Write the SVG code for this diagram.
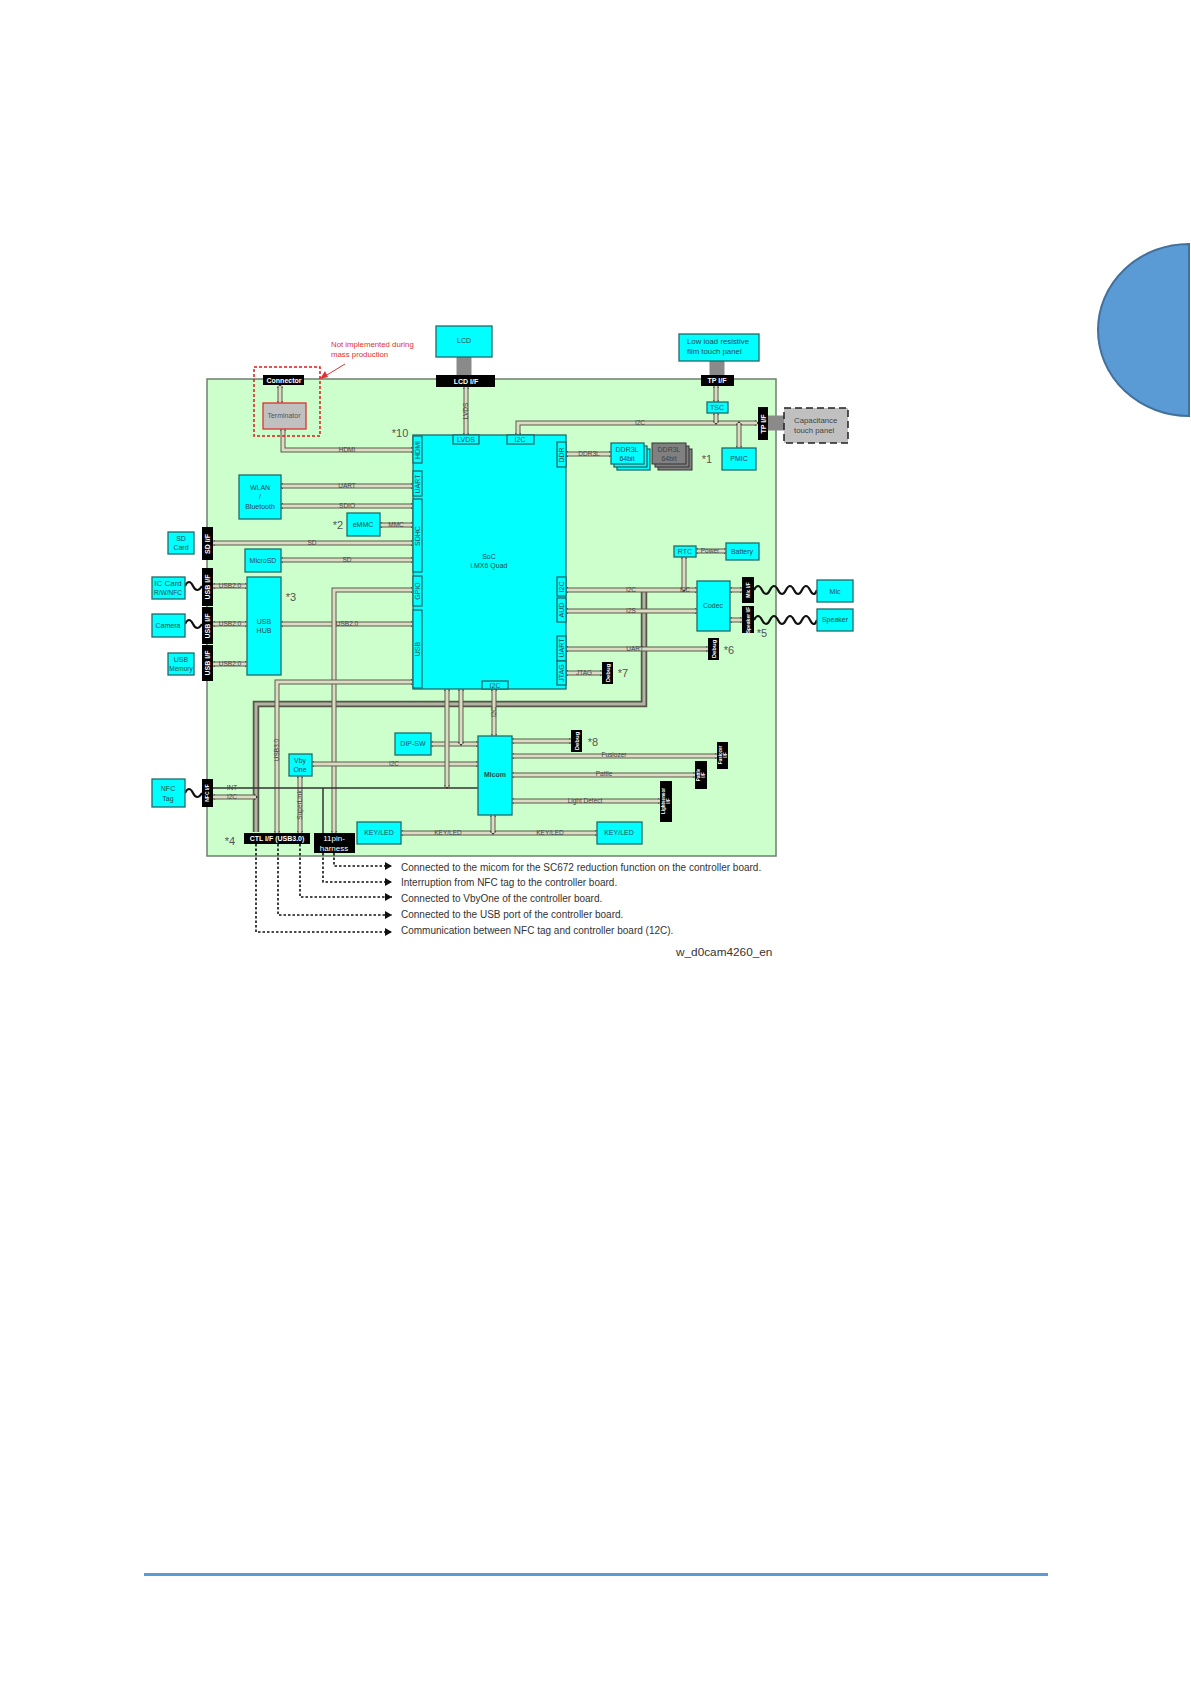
<svg xmlns="http://www.w3.org/2000/svg" width="1191" height="1684" viewBox="0 0 1191 1684">
<style>
text{font-family:"Liberation Sans",Arial,sans-serif;fill:#2a4a50;font-size:7px;text-anchor:middle}
.n rect,rect.n{fill:#00ffff;stroke:#1f6b6b;stroke-width:1.3}
.b rect,rect.b{fill:#000;stroke:none}
.b text{fill:#fff;font-weight:bold}
.o{fill:none;stroke:#5a5a4c;stroke-width:5;marker-start:url(#a);marker-end:url(#a)}
.i{fill:none;stroke:#dcdcc4;stroke-width:3}
.t{fill:none;stroke:#555548;stroke-width:6.5}
.ti{fill:none;stroke:#b4b4a4;stroke-width:3}
.w{fill:none;stroke:#111;stroke-width:2.2}
.g{fill:none;stroke:#8a8a8a;stroke-width:15}
.d{fill:none;stroke:#111;stroke-width:1.6;stroke-dasharray:2.5 2;marker-end:url(#h)}
.l{font-size:6.5px;fill:#444}
.m{font-size:11px;fill:#555}
.c{font-size:10px;text-anchor:start;fill:#333}
</style>
<defs>
<marker id="a" markerWidth="4" markerHeight="6" refX="2" refY="3" orient="auto-start-reverse" markerUnits="userSpaceOnUse"><path d="M0,0L4,3L0,6z" fill="#333"/></marker>
<marker id="h" markerWidth="8" markerHeight="8" refX="7" refY="4" orient="auto" markerUnits="userSpaceOnUse"><path d="M0,0L7,4L0,8z" fill="#111"/></marker>
</defs>
<rect width="1191" height="1684" fill="#fff"/>
<path id="tab" d="M1189,244A91,86 0 0 0 1189,416Z" fill="#5b9bd5" stroke="#41719c" stroke-width="2"/>
<rect id="footer" x="144" y="1573" width="904" height="3" fill="#5b9bd5"/>
<rect id="board" x="207" y="379" width="569" height="477" fill="#ccffcc" stroke="#6f7f6f" stroke-width="1.5"/>

<g id="connectors">
<path class="g" d="M464,357V375M717,361V375M768,423H785"/>
<path class="w" d="M185,586q4,-8 8,0t9,0M185,624q4,-8 8,0t9,0M185,793q4,-8 8,0t9,0M754,590q4,-8 8,0t8,0t8,0t8,0t8,0t8,0t8,0t7,0M754,620q4,-8 8,0t8,0t8,0t8,0t8,0t8,0t8,0t7,0"/>
<path class="t" d="M256,832V704H644V592"/><path class="ti" d="M256,832V704H644V592"/>
<g id="buses">
<path class="o" d="M280,386V403"/><path class="i" d="M280,386V403"/>
<path class="o" d="M283,429V450H413"/><path class="i" d="M283,429V450H413"/>
<path class="o" d="M281,486H413"/><path class="i" d="M281,486H413"/>
<path class="o" d="M281,506H413"/><path class="i" d="M281,506H413"/>
<path class="o" d="M380,525H413"/><path class="i" d="M380,525H413"/>
<path class="o" d="M213,543H413"/><path class="i" d="M213,543H413"/>
<path class="o" d="M281,560H413"/><path class="i" d="M281,560H413"/>
<path class="o" d="M213,586H247"/><path class="i" d="M213,586H247"/>
<path class="o" d="M213,624H247"/><path class="i" d="M213,624H247"/>
<path class="o" d="M213,664H247"/><path class="i" d="M213,664H247"/>
<path class="o" d="M281,624H413"/><path class="i" d="M281,624H413"/>
<path class="o" d="M413,590H334V833"/><path class="i" d="M413,590H334V833"/>
<path class="o" d="M413,682H277V833"/><path class="i" d="M413,682H277V833"/>
<path class="o" d="M300,776V833"/><path class="i" d="M300,776V833"/>
<path class="o" d="M312,764H478"/><path class="i" d="M312,764H478"/>
<path class="o" d="M431,744H478"/><path class="i" d="M431,744H478"/>
<path class="o" d="M461,689V744"/><path class="i" d="M461,689V744"/>
<path class="o" d="M447,689V787"/><path class="i" d="M447,689V787"/>
<path class="o" d="M213,797H256"/><path class="i" d="M213,797H256"/>
<path fill="none" stroke="#333" stroke-width="1.5" d="M213,788H478M323,788V833"/>
<path class="o" d="M401,833H597"/><path class="i" d="M401,833H597"/>
<path class="o" d="M493,815V833"/><path class="i" d="M493,815V833"/>
<path class="o" d="M494,689V736"/><path class="i" d="M494,689V736"/>
<path class="o" d="M512,741H571"/><path class="i" d="M512,741H571"/>
<path class="o" d="M512,756H717"/><path class="i" d="M512,756H717"/>
<path class="o" d="M512,775H695"/><path class="i" d="M512,775H695"/>
<path class="o" d="M512,801H660"/><path class="i" d="M512,801H660"/>
<path class="o" d="M566,590H697"/><path class="i" d="M566,590H697"/>
<path class="o" d="M566,611H697"/><path class="i" d="M566,611H697"/>
<path class="o" d="M566,649H708"/><path class="i" d="M566,649H708"/>
<path class="o" d="M566,673H602"/><path class="i" d="M566,673H602"/>
<path class="o" d="M684,557V590"/><path class="i" d="M684,557V590"/>
<path class="o" d="M696,551H726"/><path class="i" d="M696,551H726"/>
<path class="o" d="M730,590H742"/><path class="i" d="M730,590H742"/>
<path class="o" d="M730,620H742"/><path class="i" d="M730,620H742"/>
<path class="o" d="M566,454H611"/><path class="i" d="M566,454H611"/>
<path class="o" d="M466,387V435"/><path class="i" d="M466,387V435"/>
<path class="o" d="M716,386V402"/><path class="i" d="M716,386V402"/>
<path class="o" d="M518,435V423H757"/><path class="i" d="M518,435V423H757"/>
<path class="o" d="M716,413V423"/><path class="i" d="M716,413V423"/>
<path class="o" d="M739,423V448"/><path class="i" d="M739,423V448"/>
</g>
<path class="d" d="M256,844V932H392"/>
<path class="d" d="M278,844V915H392"/>
<path class="d" d="M300,844V897H392"/>
<path class="d" d="M323,853V882H392"/>
<path class="d" d="M334,853V866H392"/>
<path d="M345,364L322,378" fill="none" stroke="#e03030" stroke-width="1"/>
<path d="M320,379L328,377L325,371z" fill="#e03030"/>
</g>
<g id="bus-labels">
<text class="l" x="347" y="452">HDMI</text>
<text class="l" x="347" y="488">UART</text>
<text class="l" x="347" y="508">SDIO</text>
<text class="l" x="396" y="527">MMC</text>
<text class="l" x="312" y="545">SD</text>
<text class="l" x="347" y="562">SD</text>
<text class="l" x="230" y="588">USB2.0</text>
<text class="l" x="230" y="626">USB2.0</text>
<text class="l" x="230" y="666">USB2.0</text>
<text class="l" x="347" y="626">USB2.0</text>
<text class="l" transform="translate(279,750) rotate(-90)">USB3.0</text>
<text class="l" x="394" y="766">I2C</text>
<text class="l" x="232" y="790">INT</text>
<text class="l" x="232" y="799">I2C</text>
<text class="l" transform="translate(302,805) rotate(-90)">SuperLink</text>
<text class="l" x="448" y="835">KEY/LED</text>
<text class="l" x="550" y="835">KEY/LED</text>
<text class="l" transform="translate(496,712) rotate(-90)">I2C</text>
<text class="l" x="614" y="757">Fusiozer</text>
<text class="l" x="604" y="776">Pattle</text>
<text class="l" x="585" y="803">Light Detect</text>
<text class="l" x="631" y="592">I2C</text>
<text class="l" x="685" y="592">I2C</text>
<text class="l" x="631" y="613">I2S</text>
<text class="l" x="635" y="651">UART</text>
<text class="l" x="584" y="675">JTAG</text>
<text class="l" x="710" y="553">Power</text>
<text class="l" x="589" y="456">DDR3L</text>
<text class="l" x="640" y="425">I2C</text>
<text class="l" transform="translate(468,411) rotate(-90)">LVDS</text>
</g>

<g id="soc" class="n"><rect x="413" y="435" width="153" height="254"/><text x="489" y="559">SoC</text><text x="489" y="568">i.MX6 Quad</text></g>
<g id="tab-hdmi" class="n"><rect x="413" y="436" width="9" height="27"/><text transform="translate(420,450) rotate(-90)">HDMI</text></g>
<g id="tab-uart1" class="n"><rect x="413" y="471" width="9" height="25"/><text transform="translate(420,484) rotate(-90)">UART</text></g>
<g id="tab-sdhc" class="n"><rect x="413" y="499" width="9" height="73"/><text transform="translate(420,536) rotate(-90)">SDHC</text></g>
<g id="tab-gpio" class="n"><rect x="413" y="576" width="9" height="30"/><text transform="translate(420,591) rotate(-90)">GPIO</text></g>
<g id="tab-usb" class="n"><rect x="413" y="610" width="9" height="78"/><text transform="translate(420,649) rotate(-90)">USB</text></g>
<g id="tab-lvds" class="n"><rect x="453" y="435" width="26" height="9"/><text x="466" y="442">LVDS</text></g>
<g id="tab-i2c1" class="n"><rect x="507" y="435" width="27" height="9"/><text x="520" y="442">I2C</text></g>
<g id="tab-ddr" class="n"><rect x="557" y="442" width="9" height="25"/><text transform="translate(564,455) rotate(-90)">DDR</text></g>
<g id="tab-i2c2" class="n"><rect x="557" y="577" width="9" height="19"/><text transform="translate(564,587) rotate(-90)">I2C</text></g>
<g id="tab-aud" class="n"><rect x="557" y="598" width="9" height="24"/><text transform="translate(564,610) rotate(-90)">AUD</text></g>
<g id="tab-uart2" class="n"><rect x="557" y="636" width="9" height="25"/><text transform="translate(564,648) rotate(-90)">UART</text></g>
<g id="tab-jtag" class="n"><rect x="557" y="661" width="9" height="24"/><text transform="translate(564,673) rotate(-90)">JTAG</text></g>
<g id="tab-i2c3" class="n"><rect x="482" y="681" width="26" height="8"/><text x="495" y="688">I2C</text></g>

<g id="connector" class="b"><rect x="263" y="375" width="41" height="10"/><text x="284" y="383">Connector</text></g>
<g id="terminator"><rect x="263" y="403" width="43" height="26" fill="#c0c0c0" stroke="#e03030" stroke-width="1.3"/><text x="284" y="418" style="fill:#555">Terminator</text></g>
<rect id="not-implemented" x="254" y="367" width="66" height="69" fill="none" stroke="#e01818" stroke-width="1.5" stroke-dasharray="3 2"/>
<g id="red-note"><text x="331" y="347" style="fill:#e03030;text-anchor:start;font-size:7.8px">Not implemented during</text><text x="331" y="357" style="fill:#e03030;text-anchor:start;font-size:7.8px">mass production</text></g>
<g id="lcd" class="n"><rect x="436" y="326" width="56" height="31"/><text x="464" y="343">LCD</text></g>
<g id="lcd-if" class="b"><rect x="436" y="375" width="59" height="12"/><text x="466" y="384">LCD I/F</text></g>
<g id="touch" class="n"><rect x="679" y="334" width="80" height="27"/><text x="687" y="344" style="text-anchor:start;font-size:7.8px">Low load resistive</text><text x="687" y="354" style="text-anchor:start;font-size:7.8px">film touch panel</text></g>
<g id="tp-if1" class="b"><rect x="701" y="375" width="33" height="11"/><text x="717" y="383">TP I/F</text></g>
<g id="tsc" class="n"><rect x="707" y="402" width="21" height="11"/><text x="717" y="410">TSC</text></g>
<g id="tp-if2" class="b"><rect x="758" y="407" width="10" height="33"/><text transform="translate(766,424) rotate(-90)">TP I/F</text></g>
<g id="capacitance"><rect x="784" y="408" width="64" height="35" fill="#c0c0c0" stroke="#222" stroke-width="1.5" stroke-dasharray="7 4"/><text x="794" y="423" style="text-anchor:start;font-size:7.8px;fill:#444">Capacitance</text><text x="794" y="433" style="text-anchor:start;font-size:7.8px;fill:#444">touch panel</text></g>
<g id="pmic" class="n"><rect x="722" y="448" width="34" height="22"/><text x="739" y="461">PMIC</text></g>
<g id="ddr1" class="n"><rect x="617" y="449" width="33" height="21"/><rect x="614" y="446" width="33" height="21"/><rect x="611" y="443" width="33" height="21"/><text x="627" y="452">DDR3L</text><text x="627" y="461">64bit</text></g>
<g id="ddr2"><rect x="658" y="449" width="34" height="21" fill="#808080" stroke="#333"/><rect x="655" y="446" width="34" height="21" fill="#808080" stroke="#333"/><rect x="652" y="443" width="34" height="21" fill="#808080" stroke="#333"/><text x="669" y="452" style="fill:#444">DDR3L</text><text x="669" y="461" style="fill:#444">64bit</text></g>
<g id="wlan" class="n"><rect x="239" y="475" width="42" height="44"/><text x="260" y="490">WLAN</text><text x="260" y="499">/</text><text x="260" y="509">Bluetooth</text></g>
<g id="emmc" class="n"><rect x="347" y="513" width="33" height="23"/><text x="363" y="527">eMMC</text></g>
<g id="sdif" class="b"><rect x="202" y="527" width="11" height="33"/><text transform="translate(210,544) rotate(-90)">SD I/F</text></g>
<g id="sdcard" class="n"><rect x="168" y="532" width="26" height="22"/><text x="181" y="541">SD</text><text x="181" y="550">Card</text></g>
<g id="microsd" class="n"><rect x="245" y="549" width="36" height="23"/><text x="263" y="563">MicroSD</text></g>
<g id="usbif1" class="b"><rect x="202" y="568" width="11" height="38"/><text transform="translate(210,587) rotate(-90)">USB I/F</text></g>
<g id="usbif2" class="b"><rect x="202" y="607" width="11" height="37"/><text transform="translate(210,626) rotate(-90)">USB I/F</text></g>
<g id="usbif3" class="b"><rect x="202" y="645" width="11" height="36"/><text transform="translate(210,663) rotate(-90)">USB I/F</text></g>
<g id="iccard" class="n"><rect x="152" y="577" width="33" height="22"/><text x="168" y="586" style="font-size:8px">IC Card</text><text x="168" y="595" style="font-size:6.5px">R/W/NFC</text></g>
<g id="camera" class="n"><rect x="152" y="614" width="33" height="23"/><text x="168" y="628">Camera</text></g>
<g id="usbmem" class="n"><rect x="168" y="653" width="26" height="22"/><text x="181" y="662">USB</text><text x="181" y="671" style="font-size:6.5px">Memory</text></g>
<g id="usbhub" class="n"><rect x="247" y="577" width="34" height="98"/><text x="264" y="624">USB</text><text x="264" y="633">HUB</text></g>
<g id="dipsw" class="n"><rect x="395" y="733" width="36" height="22"/><text x="413" y="746">DIP-SW</text></g>
<g id="vbyone" class="n"><rect x="289" y="754" width="23" height="22"/><text x="300" y="763">Vby</text><text x="300" y="772">One</text></g>
<g id="micom" class="n"><rect x="478" y="736" width="34" height="79"/><text x="495" y="777" style="font-weight:bold">Micom</text></g>
<g id="nfctag" class="n"><rect x="152" y="779" width="33" height="28"/><text x="168" y="791">NFC</text><text x="168" y="801">Tag</text></g>
<g id="nfcif" class="b"><rect x="202" y="779" width="11" height="28"/><text transform="translate(209,793) rotate(-90)" style="font-size:5px">NFC I/F</text></g>
<g id="ctlif" class="b"><rect x="244" y="833" width="66" height="11"/><text x="277" y="841">CTL I/F (USB3.0)</text></g>
<g id="harness" class="b"><rect x="314" y="833" width="41" height="20"/><text x="334" y="841" style="font-size:8px;font-weight:normal">11pin-</text><text x="334" y="851" style="font-size:8px;font-weight:normal">harness</text></g>
<g id="keyled1" class="n"><rect x="357" y="822" width="44" height="22"/><text x="379" y="835">KEY/LED</text></g>
<g id="keyled2" class="n"><rect x="597" y="822" width="45" height="22"/><text x="619" y="835">KEY/LED</text></g>
<g id="rtc" class="n"><rect x="674" y="546" width="22" height="11"/><text x="685" y="554">RTC</text></g>
<g id="battery" class="n"><rect x="726" y="543" width="33" height="17"/><text x="742" y="554">Battery</text></g>
<g id="codec" class="n"><rect x="697" y="581" width="33" height="50"/><text x="713" y="608">Codec</text></g>
<g id="micif" class="b"><rect x="742" y="577" width="12" height="26"/><text transform="translate(750,590) rotate(-90)" style="font-size:5px">Mic I/F</text></g>
<g id="spif" class="b"><rect x="742" y="606" width="12" height="27"/><text transform="translate(750,620) rotate(-90)" style="font-size:5px">Speaker I/F</text></g>
<g id="mic" class="n"><rect x="817" y="580" width="36" height="22"/><text x="835" y="594">Mic</text></g>
<g id="speaker" class="n"><rect x="817" y="609" width="36" height="22"/><text x="835" y="622">Speaker</text></g>
<g id="debug6" class="b"><rect x="708" y="638" width="11" height="22"/><text transform="translate(716,649) rotate(-90)" style="font-size:6px">Debug</text></g>
<g id="debug7" class="b"><rect x="602" y="662" width="11" height="22"/><text transform="translate(610,673) rotate(-90)" style="font-size:6px">Debug</text></g>
<g id="debug8" class="b"><rect x="571" y="730" width="11" height="22"/><text transform="translate(579,741) rotate(-90)" style="font-size:6px">Debug</text></g>
<g id="if-fusiozer" class="b"><rect x="717" y="742" width="11" height="27"/><text transform="translate(722,755) rotate(-90)" style="font-size:4.5px">Fusiozer</text><text transform="translate(727,755) rotate(-90)" style="font-size:4.5px">I/F</text></g>
<g id="if-pattle" class="b"><rect x="695" y="761" width="12" height="28"/><text transform="translate(700,775) rotate(-90)" style="font-size:4.5px">Pattle</text><text transform="translate(705,775) rotate(-90)" style="font-size:4.5px">I/F</text></g>
<g id="if-light" class="b"><rect x="660" y="781" width="12" height="41"/><text transform="translate(665,801) rotate(-90)" style="font-size:4.5px">Lightsensor</text><text transform="translate(670,801) rotate(-90)" style="font-size:4.5px">I/F</text></g>

<g id="marks">
<text class="m" x="400" y="437">*10</text>
<text class="m" x="338" y="529">*2</text>
<text class="m" x="291" y="601">*3</text>
<text class="m" x="230" y="845">*4</text>
<text class="m" x="762" y="637">*5</text>
<text class="m" x="729" y="654">*6</text>
<text class="m" x="623" y="677">*7</text>
<text class="m" x="593" y="746">*8</text>
<text class="m" x="707" y="463">*1</text>
</g>
<g id="notes">
<text class="c" x="401" y="871">Connected to the micom for the SC672 reduction function on the controller board.</text>
<text class="c" x="401" y="886">Interruption from NFC tag to the controller board.</text>
<text class="c" x="401" y="902">Connected to VbyOne of the controller board.</text>
<text class="c" x="401" y="918">Connected to the USB port of the controller board.</text>
<text class="c" x="401" y="934">Communication between NFC tag and controller board (12C).</text>
<text x="676" y="956" style="text-anchor:start;font-size:11.8px;fill:#333">w_d0cam4260_en</text>
</g>
</svg>
